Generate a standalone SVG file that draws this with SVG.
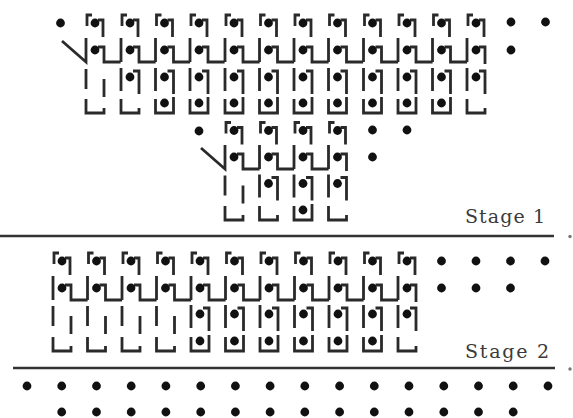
<svg xmlns="http://www.w3.org/2000/svg" width="573" height="418" viewBox="0 0 573 418">
<style>
.w{fill:none;stroke:#2a2a2a;stroke-width:2.8;stroke-linecap:butt;stroke-linejoin:miter}
.d{fill:#111}
.rule{stroke:#333;stroke-width:2.6}
.lbl{font-family:"DejaVu Serif","Liberation Serif",serif;font-size:19px;fill:#3a3a3a}
</style>
<defs>
<circle id="dt" r="4.4" class="d"/>
<g id="c1"><path class="w" d="M-8,3V-8H-3M3,-3H8V14"/><use href="#dt"/></g>
<g id="c2"><path class="w" d="M-9,-12V12M3,-3H9V12H25.6"/><use href="#dt"/></g>
<g id="c2f"><path class="w" d="M-33,-9L-9,12V-12M3,-3H9V12H25.6"/><use href="#dt"/></g>
<g id="c2e"><path class="w" d="M-9,-12V12M3,-3H9V14"/><use href="#dt"/></g>
<g id="c3d"><path class="w" d="M-9,-9V14M3,-6H9V17"/><use href="#dt"/></g>
<g id="c3e"><path class="w" d="M-9,-8V12M9,2V20"/></g>
<g id="c4d"><path class="w" d="M-9,-4V10H9V-6"/><use href="#dt"/></g>
<g id="c4e"><path class="w" d="M-9,-4V10H9V5"/></g>
</defs>
<rect width="573" height="418" fill="#fff"/>

<g id="stage1-top">
<use href="#dt" x="60.5" y="23"/><use href="#dt" x="511" y="22"/><use href="#dt" x="545.5" y="22"/><use href="#dt" x="511" y="50"/>
<use href="#c1" x="95" y="23"/><use href="#c1" x="130" y="23"/><use href="#c1" x="164.5" y="23"/><use href="#c1" x="199" y="23"/><use href="#c1" x="234" y="23"/><use href="#c1" x="268.5" y="23"/><use href="#c1" x="303" y="23"/><use href="#c1" x="337.5" y="23"/><use href="#c1" x="372.5" y="23"/><use href="#c1" x="407" y="23"/><use href="#c1" x="441.5" y="23"/><use href="#c1" x="476" y="23"/>
<use href="#c2f" x="95" y="50"/><use href="#c2" x="130" y="50"/><use href="#c2" x="164.5" y="50"/><use href="#c2" x="199" y="50"/><use href="#c2" x="234" y="50"/><use href="#c2" x="268.5" y="50"/><use href="#c2" x="303" y="50"/><use href="#c2" x="337.5" y="50"/><use href="#c2" x="372.5" y="50"/><use href="#c2" x="407" y="50"/><use href="#c2" x="441.5" y="50"/><use href="#c2e" x="476" y="50"/>
<use href="#c3e" x="95" y="77"/><use href="#c3d" x="130" y="77"/><use href="#c3d" x="164.5" y="77"/><use href="#c3d" x="199" y="77"/><use href="#c3d" x="234" y="77"/><use href="#c3d" x="268.5" y="77"/><use href="#c3d" x="303" y="77"/><use href="#c3d" x="337.5" y="77"/><use href="#c3d" x="372.5" y="77"/><use href="#c3d" x="407" y="77"/><use href="#c3d" x="441.5" y="77"/><use href="#c3d" x="476" y="77"/>
<use href="#c4e" x="95" y="103"/><use href="#c4e" x="130" y="103"/><use href="#c4d" x="164.5" y="103"/><use href="#c4d" x="199" y="103"/><use href="#c4d" x="234" y="103"/><use href="#c4d" x="268.5" y="103"/><use href="#c4d" x="303" y="103"/><use href="#c4d" x="337.5" y="103"/><use href="#c4d" x="372.5" y="103"/><use href="#c4d" x="407" y="103"/><use href="#c4d" x="441.5" y="103"/><use href="#c4e" x="476" y="103"/>
</g>

<g id="stage1-mid">
<use href="#dt" x="199" y="131"/><use href="#dt" x="372.5" y="130"/><use href="#dt" x="407" y="130"/><use href="#dt" x="372.5" y="157"/>
<use href="#c1" x="234" y="130.5"/><use href="#c1" x="268.5" y="130.5"/><use href="#c1" x="303" y="130.5"/><use href="#c1" x="337.5" y="130.5"/>
<use href="#c2f" x="234" y="157"/><use href="#c2" x="268.5" y="157"/><use href="#c2" x="303" y="157"/><use href="#c2e" x="337.5" y="157"/>
<use href="#c3e" x="234" y="183.5"/><use href="#c3d" x="268.5" y="183.5"/><use href="#c3d" x="303" y="183.5"/><use href="#c3d" x="337.5" y="183.5"/>
<use href="#c4e" x="234" y="210"/><use href="#c4e" x="268.5" y="210"/><use href="#c4d" x="303" y="210"/><use href="#c4e" x="337.5" y="210"/>
</g>

<g id="stage1-label">
<line class="rule" x1="0" y1="236" x2="554" y2="236"/>
<circle cx="570" cy="236.5" r="1.7" fill="#777"/>
<text class="lbl" x="465" y="223" textLength="80" lengthAdjust="spacing">Stage 1</text>
</g>

<g id="stage2">
<use href="#dt" x="441.5" y="261"/><use href="#dt" x="476" y="261"/><use href="#dt" x="510.5" y="261"/><use href="#dt" x="545" y="261"/>
<use href="#dt" x="441.5" y="288"/><use href="#dt" x="476" y="288"/><use href="#dt" x="510.5" y="288"/>
<use href="#c1" x="62" y="261"/><use href="#c1" x="96.5" y="261"/><use href="#c1" x="131" y="261"/><use href="#c1" x="165.5" y="261"/><use href="#c1" x="200" y="261"/><use href="#c1" x="234.5" y="261"/><use href="#c1" x="269" y="261"/><use href="#c1" x="303.5" y="261"/><use href="#c1" x="338" y="261"/><use href="#c1" x="372.5" y="261"/><use href="#c1" x="407" y="261"/>
<use href="#c2" x="62" y="288"/><use href="#c2" x="96.5" y="288"/><use href="#c2" x="131" y="288"/><use href="#c2" x="165.5" y="288"/><use href="#c2" x="200" y="288"/><use href="#c2" x="234.5" y="288"/><use href="#c2" x="269" y="288"/><use href="#c2" x="303.5" y="288"/><use href="#c2" x="338" y="288"/><use href="#c2" x="372.5" y="288"/><use href="#c2e" x="407" y="288"/>
<use href="#c3e" x="62" y="314"/><use href="#c3e" x="96.5" y="314"/><use href="#c3e" x="131" y="314"/><use href="#c3e" x="165.5" y="314"/><use href="#c3d" x="200" y="314"/><use href="#c3d" x="234.5" y="314"/><use href="#c3d" x="269" y="314"/><use href="#c3d" x="303.5" y="314"/><use href="#c3d" x="338" y="314"/><use href="#c3d" x="372.5" y="314"/><use href="#c3d" x="407" y="314"/>
<use href="#c4e" x="62" y="341"/><use href="#c4e" x="96.5" y="341"/><use href="#c4e" x="131" y="341"/><use href="#c4e" x="165.5" y="341"/><use href="#c4d" x="200" y="341"/><use href="#c4d" x="234.5" y="341"/><use href="#c4d" x="269" y="341"/><use href="#c4d" x="303.5" y="341"/><use href="#c4d" x="338" y="341"/><use href="#c4d" x="372.5" y="341"/><use href="#c4e" x="407" y="341"/>
</g>

<g id="stage2-label">
<line class="rule" x1="13" y1="368" x2="555" y2="368"/>
<circle cx="570" cy="369" r="1.7" fill="#777"/>
<text class="lbl" x="465" y="358" textLength="84" lengthAdjust="spacing">Stage 2</text>
</g>

<g id="free-dots">
<use href="#dt" x="27" y="386"/><use href="#dt" x="61.7" y="386"/><use href="#dt" x="96.5" y="386"/><use href="#dt" x="131.2" y="386"/><use href="#dt" x="165.9" y="386"/><use href="#dt" x="200.7" y="386"/><use href="#dt" x="235.4" y="386"/><use href="#dt" x="270.1" y="386"/><use href="#dt" x="304.8" y="386"/><use href="#dt" x="339.6" y="386"/><use href="#dt" x="374.3" y="386"/><use href="#dt" x="409" y="386"/><use href="#dt" x="443.8" y="386"/><use href="#dt" x="478.5" y="386"/><use href="#dt" x="513.2" y="386"/><use href="#dt" x="548" y="386"/>
<use href="#dt" x="61.7" y="412"/><use href="#dt" x="96.5" y="412"/><use href="#dt" x="131.2" y="412"/><use href="#dt" x="165.9" y="412"/><use href="#dt" x="200.7" y="412"/><use href="#dt" x="235.4" y="412"/><use href="#dt" x="270.1" y="412"/><use href="#dt" x="304.8" y="412"/><use href="#dt" x="339.6" y="412"/><use href="#dt" x="374.3" y="412"/><use href="#dt" x="409" y="412"/><use href="#dt" x="443.8" y="412"/><use href="#dt" x="478.5" y="412"/><use href="#dt" x="513.2" y="412"/>
</g>
</svg>
